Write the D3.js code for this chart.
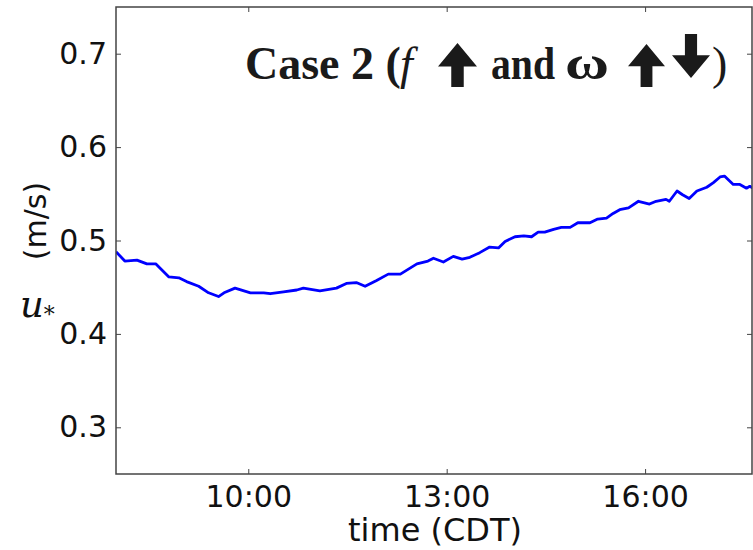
<!DOCTYPE html>
<html>
<head>
<meta charset="utf-8">
<script src="https://cdn.jsdelivr.net/npm/d3@7"></script>
<style>
    html, body { margin: 0; padding: 0; background: #fff; }
    svg { display: block; }
</style>
</head>
<body>
<div id="chart"></div>
<script>
// friction velocity u* (m/s) vs local time
const times = [
    "08:00", "08:08", "08:19", "08:28", "08:36", "08:48", "08:57", "09:04", "09:15", "09:24",
    "09:33", "09:38", "09:48", "10:02", "10:14", "10:20", "10:32", "10:44", "10:50", "11:05",
    "11:20", "11:29", "11:38", "11:46", "11:56", "12:07", "12:18", "12:33", "12:43", "12:48",
    "12:57", "13:06", "13:14", "13:21", "13:30", "13:39", "13:47", "13:53", "14:02", "14:10",
    "14:17", "14:23", "14:29", "14:37", "14:44", "14:52", "14:59", "15:10", "15:17", "15:25",
    "15:31", "15:37", "15:45", "15:54", "16:04", "16:10", "16:19", "16:22", "16:29", "16:34",
    "16:40", "16:47", "16:56", "17:02", "17:08", "17:12", "17:20", "17:26", "17:32", "17:35",
    "17:38"
];
const ustar = [
    0.488, 0.478, 0.479, 0.475, 0.475, 0.461, 0.460, 0.456, 0.451, 0.444,
    0.440, 0.444, 0.449, 0.444, 0.444, 0.443, 0.445, 0.447, 0.449, 0.446,
    0.449, 0.454, 0.455, 0.451, 0.457, 0.464, 0.464, 0.475, 0.478, 0.481,
    0.477, 0.483, 0.480, 0.482, 0.487, 0.493, 0.492, 0.499, 0.504, 0.505,
    0.504, 0.509, 0.509, 0.512, 0.514, 0.514, 0.519, 0.519, 0.523, 0.524,
    0.529, 0.533, 0.535, 0.542, 0.539, 0.542, 0.544, 0.542, 0.553, 0.549,
    0.545, 0.553, 0.557, 0.562, 0.568, 0.569, 0.560, 0.560, 0.556, 0.558,
    0.556
];
const xTickLabels = ["10:00", "13:00", "16:00"];
const yTickValues = [0.3, 0.4, 0.5, 0.6, 0.7];

const W = 753, H = 550;
const margin = { top: 7, right: 1, bottom: 76, left: 116 };
const width = W - margin.left - margin.right;
const height = H - margin.top - margin.bottom;

const parseTime = d3.timeParse("%H:%M");
const data = times.map((t, i) => ({ t: parseTime(t), v: ustar[i] }));

const svg = d3.select("#chart").append("svg")
    .attr("width", W)
    .attr("height", H)
    .attr("viewBox", `0 0 ${W} ${H}`);

svg.append("defs").append("clipPath").attr("id", "plot-clip")
    .append("rect").attr("width", width).attr("height", height);

const g = svg.append("g").attr("transform", `translate(${margin.left},${margin.top})`);

const x = d3.scaleTime()
    .domain([parseTime("08:00"), parseTime("17:37")])
    .range([0, width]);

const y = d3.scaleLinear()
    .domain([0.25, 0.75])
    .range([height, 0]);

const xTicks = xTickLabels.map(parseTime);
const tickFont = "'DejaVu Sans', sans-serif";

// the line
g.append("path")
    .datum(data)
    .attr("clip-path", "url(#plot-clip)")
    .attr("fill", "none")
    .attr("stroke", "#0000ff")
    .attr("stroke-width", 2.8)
    .attr("stroke-linejoin", "round")
    .attr("d", d3.line().x(d => x(d.t)).y(d => y(d.v)));

// inward ticks on all four sides (matplotlib classic look)
function styleAxis(sel) {
    sel.select(".domain").remove();
    sel.selectAll(".tick line").attr("stroke", "#444").attr("stroke-width", 1);
    sel.selectAll(".tick text")
        .attr("fill", "#111")
        .style("font-family", tickFont)
        .style("font-size", "30px");
}

g.append("g")
    .attr("transform", `translate(0,${height})`)
    .call(d3.axisBottom(x).tickValues(xTicks).tickFormat(d3.timeFormat("%H:%M"))
        .tickSizeInner(-5).tickSizeOuter(0).tickPadding(12))
    .call(styleAxis);

g.append("g")
    .call(d3.axisTop(x).tickValues(xTicks).tickFormat("")
        .tickSizeInner(-5).tickSizeOuter(0))
    .call(styleAxis);

g.append("g")
    .call(d3.axisLeft(y).tickValues(yTickValues).tickFormat(d3.format(".1f"))
        .tickSizeInner(-5).tickSizeOuter(0).tickPadding(9))
    .call(styleAxis);

g.append("g")
    .attr("transform", `translate(${width},0)`)
    .call(d3.axisRight(y).tickValues(yTickValues).tickFormat("")
        .tickSizeInner(-5).tickSizeOuter(0))
    .call(styleAxis);

// frame
g.append("rect")
    .attr("width", width)
    .attr("height", height)
    .attr("fill", "none")
    .attr("stroke", "#444")
    .attr("stroke-width", 1.5);

// x axis label, centred on the axes
svg.append("text")
    .attr("x", 435)
    .attr("y", 541)
    .attr("text-anchor", "middle")
    .style("font-family", tickFont)
    .style("font-size", "32px")
    .attr("fill", "#111")
    .text("time (CDT)");

// y axis label: upright u* plus rotated unit
const ulab = svg.append("text")
    .attr("x", 20)
    .attr("y", 317)
    .style("font-family", "'DejaVu Serif', serif")
    .style("font-style", "italic")
    .style("font-size", "37px")
    .attr("fill", "#111");
ulab.append("tspan").text("u");
ulab.append("tspan")
    .attr("dy", 5)
    .style("font-style", "normal")
    .style("font-size", "22px")
    .text("*");

svg.append("text")
    .attr("transform", "translate(46,221) rotate(-90)")
    .attr("text-anchor", "middle")
    .style("font-family", tickFont)
    .style("font-size", "30px")
    .attr("fill", "#111")
    .text("(m/s)");

// title: text pieces with block arrows drawn between them
const titleFont = "'Liberation Serif', 'Times New Roman', serif";
const titleY = 79;

function titleText(xPos, str, opts = {}) {
    const t = svg.append("text")
        .attr("x", xPos)
        .attr("y", titleY)
        .style("font-family", titleFont)
        .style("font-weight", opts.weight || "bold")
        .style("font-style", opts.italic ? "italic" : "normal")
        .style("font-size", "46px")
        .attr("fill", "#1a1a1a")
        .text(str);
    if (opts.len) t.attr("textLength", opts.len).attr("lengthAdjust", "spacingAndGlyphs");
}

function blockArrow(x0, x1, top, bottom, up) {
    const w = x1 - x0, cx = (x0 + x1) / 2;
    const head = w * 0.6, shaft = w * 0.32;
    const p = d3.path();
    if (up) {
        p.moveTo(cx, top);
        p.lineTo(x1, top + head);
        p.lineTo(cx + shaft / 2, top + head);
        p.lineTo(cx + shaft / 2, bottom);
        p.lineTo(cx - shaft / 2, bottom);
        p.lineTo(cx - shaft / 2, top + head);
        p.lineTo(x0, top + head);
    } else {
        p.moveTo(cx, bottom);
        p.lineTo(x1, bottom - head);
        p.lineTo(cx + shaft / 2, bottom - head);
        p.lineTo(cx + shaft / 2, top);
        p.lineTo(cx - shaft / 2, top);
        p.lineTo(cx - shaft / 2, bottom - head);
        p.lineTo(x0, bottom - head);
    }
    p.closePath();
    svg.append("path").attr("d", p.toString()).attr("fill", "#1a1a1a");
}

titleText(245, "Case 2 (");
titleText(400, "f", { italic: true, weight: "normal" });
blockArrow(438, 477, 43, 87, true);
titleText(491, "and", { len: 64 });
titleText(565, "\u03C9", { len: 44 });
blockArrow(628, 665, 44, 87, true);
blockArrow(672, 710, 34, 78, false);
titleText(712, ")", { weight: "normal" });
</script>
</body>
</html>
